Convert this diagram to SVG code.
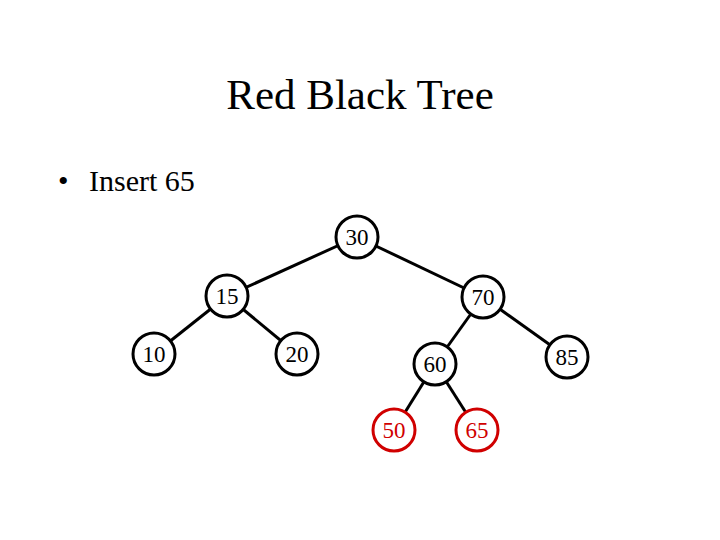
<svg xmlns="http://www.w3.org/2000/svg" width="720" height="540" viewBox="0 0 720 540">
<style>
.t{font-family:"Liberation Serif","Times New Roman",serif;fill:#000}
.n circle{fill:#fff;stroke:#000;stroke-width:3}
.n text{font-family:"Liberation Serif","Times New Roman",serif;font-size:23px;text-anchor:middle;fill:#000}
.n.red circle{stroke:#d00000}
.n.red text{fill:#d00000}
#edges line{stroke:#000;stroke-width:3}
</style>
<rect width="720" height="540" fill="#fff"/>
<text class="t" x="360" y="109" font-size="43" text-anchor="middle">Red Black Tree</text>
<text class="t" x="58" y="191" font-size="30">•</text>
<text class="t" x="89" y="191" font-size="30">Insert 65</text>
<g id="edges">
<line x1="357" y1="237" x2="227" y2="296"/>
<line x1="357" y1="237" x2="483" y2="297"/>
<line x1="227" y1="296" x2="154" y2="354"/>
<line x1="227" y1="296" x2="297" y2="354"/>
<line x1="483" y1="297" x2="435" y2="364"/>
<line x1="483" y1="297" x2="567" y2="357"/>
<line x1="435" y1="364" x2="394" y2="430"/>
<line x1="435" y1="364" x2="477" y2="430"/>
</g>
<g id="n30" class="n"><circle cx="357" cy="237" r="21"/><text x="357" y="245">30</text></g>
<g id="n15" class="n"><circle cx="227" cy="296" r="21"/><text x="227" y="304">15</text></g>
<g id="n70" class="n"><circle cx="483" cy="297" r="21"/><text x="483" y="305">70</text></g>
<g id="n10" class="n"><circle cx="154" cy="354" r="21"/><text x="154" y="362">10</text></g>
<g id="n20" class="n"><circle cx="297" cy="354" r="21"/><text x="297" y="362">20</text></g>
<g id="n60" class="n"><circle cx="435" cy="364" r="21"/><text x="435" y="372">60</text></g>
<g id="n85" class="n"><circle cx="567" cy="357" r="21"/><text x="567" y="365">85</text></g>
<g id="n50" class="n red"><circle cx="394" cy="430" r="21"/><text x="394" y="438">50</text></g>
<g id="n65" class="n red"><circle cx="477" cy="430" r="21"/><text x="477" y="438">65</text></g>
</svg>
